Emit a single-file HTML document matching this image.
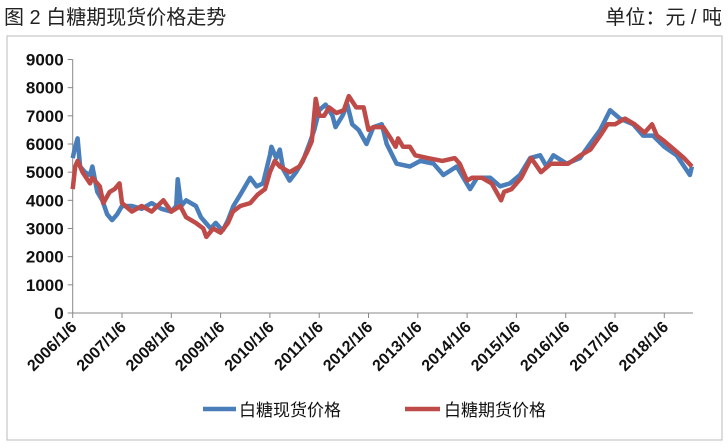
<!DOCTYPE html>
<html><head><meta charset="utf-8"><style>
body{margin:0;background:#fff;width:728px;height:442px;overflow:hidden;font-family:"Liberation Sans","Noto Sans CJK SC",sans-serif}
</style></head><body>
<svg width="728" height="442" xmlns="http://www.w3.org/2000/svg">
<text x="4" y="24" font-size="20" fill="#222" font-family="Liberation Sans, Noto Sans CJK SC, sans-serif">图 2 白糖期现货价格走势</text>
<text x="722" y="24" font-size="20" fill="#222" text-anchor="end" font-family="Liberation Sans, Noto Sans CJK SC, sans-serif">单位：元 / 吨</text>
<rect x="7" y="36" width="715" height="404" fill="none" stroke="#bbb"/>
<g id="axes"></g><g id="series"></g>
<g>
<line x1="203" y1="409" x2="236" y2="409" stroke="#4a7ebb" stroke-width="4.5"/>
<text x="239" y="416" font-size="17" fill="#111" font-family="Liberation Sans, Noto Sans CJK SC, sans-serif">白糖现货价格</text>
<line x1="405" y1="409" x2="440" y2="409" stroke="#be4b48" stroke-width="4.5"/>
<text x="444" y="416" font-size="17" fill="#111" font-family="Liberation Sans, Noto Sans CJK SC, sans-serif">白糖期货价格</text>
</g>
</svg>
<script>
const yTicks=[0,1000,2000,3000,4000,5000,6000,7000,8000,9000];
const xTickLabels=["2006/1/6","2007/1/6","2008/1/6","2009/1/6","2010/1/6","2011/1/6","2012/1/6","2013/1/6","2014/1/6","2015/1/6","2016/1/6","2017/1/6","2018/1/6"];
const xTickYears=[2006,2007,2008,2009,2010,2011,2012,2013,2014,2015,2016,2017,2018];
const spotTimes=[2006.0,2006.05,2006.1,2006.15,2006.25,2006.35,2006.4,2006.5,2006.6,2006.7,2006.8,2006.9,2007.0,2007.2,2007.4,2007.6,2007.8,2008.0,2008.1,2008.13,2008.2,2008.3,2008.5,2008.6,2008.7,2008.8,2008.9,2009.0,2009.05,2009.15,2009.26,2009.4,2009.6,2009.73,2009.86,2010.0,2010.03,2010.13,2010.2,2010.27,2010.4,2010.53,2010.67,2010.8,2010.9,2011.0,2011.13,2011.27,2011.33,2011.47,2011.57,2011.67,2011.8,2011.96,2012.1,2012.27,2012.37,2012.57,2012.84,2013.05,2013.32,2013.52,2013.79,2014.06,2014.2,2014.47,2014.67,2014.87,2015.07,2015.28,2015.48,2015.61,2015.75,2016.02,2016.29,2016.49,2016.7,2016.9,2017.1,2017.37,2017.57,2017.77,2018.0,2018.25,2018.52,2018.56];
const spotValues=[5500,5900,6200,5200,5000,4900,5200,4300,4000,3500,3300,3500,3800,3800,3700,3900,3700,3600,3800,4750,3800,4000,3800,3400,3200,3000,3200,3000,2950,3300,3800,4200,4800,4500,4600,5600,5900,5500,5800,5100,4700,5000,5400,6000,6500,7200,7400,7000,6600,7000,7400,6700,6500,6000,6600,6700,6000,5300,5200,5400,5300,4900,5200,4400,4800,4800,4500,4600,4900,5500,5600,5200,5600,5300,5500,6000,6500,7200,6900,6700,6300,6300,5900,5600,4900,5200];
const futTimes=[2006.0,2006.05,2006.1,2006.2,2006.35,2006.4,2006.55,2006.62,2006.75,2006.85,2006.95,2007.0,2007.2,2007.4,2007.6,2007.84,2008.0,2008.18,2008.3,2008.5,2008.65,2008.71,2008.85,2009.0,2009.15,2009.25,2009.4,2009.6,2009.75,2009.9,2010.0,2010.1,2010.2,2010.4,2010.6,2010.75,2010.85,2010.93,2011.0,2011.1,2011.2,2011.35,2011.5,2011.6,2011.75,2011.9,2012.0,2012.1,2012.3,2012.45,2012.55,2012.6,2012.7,2012.84,2012.95,2013.2,2013.5,2013.75,2013.85,2014.0,2014.1,2014.3,2014.5,2014.69,2014.75,2014.9,2015.1,2015.3,2015.5,2015.7,2015.9,2016.05,2016.3,2016.5,2016.7,2016.85,2017.0,2017.2,2017.4,2017.6,2017.75,2017.85,2018.0,2018.2,2018.4,2018.56];
const futValues=[4400,5200,5400,5000,4600,4800,4500,3900,4300,4400,4600,3900,3600,3800,3600,4000,3600,3800,3400,3200,3000,2700,3000,2850,3200,3600,3800,3900,4200,4400,5000,5400,5200,5000,5200,5700,6100,7600,7000,7000,7300,7100,7200,7700,7300,7300,6500,6600,6600,6200,5900,6200,5900,5900,5600,5500,5400,5500,5300,4700,4800,4800,4600,4000,4300,4400,4800,5500,5000,5300,5300,5300,5600,5800,6300,6700,6700,6900,6700,6400,6700,6300,6100,5800,5500,5200];
const X0=72.7,PX_PER_YEAR=49.3,Y0=313,Y9=59.5;
const xs=t=>X0+(t-2006)*PX_PER_YEAR;
const ys=v=>Y0-(v/9000)*(Y0-Y9);
const NS="http://www.w3.org/2000/svg";
const axes=document.getElementById('axes'),series=document.getElementById('series');
function mk(tag,attrs,parent){const e=document.createElementNS(NS,tag);for(const k in attrs)e.setAttribute(k,attrs[k]);parent.appendChild(e);return e;}
const yAxis=mk('line',{x1:X0,y1:Y9,x2:X0,y2:Y0,stroke:'#888'},axes);


const xAxis=mk('line',{x1:X0,y1:Y0,x2:693,y2:Y0,stroke:'#888'},axes);


yTicks.forEach(v=>{
  mk('line',{x1:X0-5,y1:ys(v),x2:X0,y2:ys(v),stroke:'#888'},axes);
  const t=mk('text',{x:X0-9,y:ys(v)+6,'font-size':17,'font-weight':'bold','text-anchor':'end',fill:'#111'},axes);
  t.textContent=v;
  
  
});
xTickYears.forEach((yr,i)=>{
  const x=xs(yr);
  mk('line',{x1:x,y1:Y0,x2:x,y2:Y0+5,stroke:'#888'},axes);
  const t=mk('text',{x:x+5,y:Y0+15,'font-size':16,'font-weight':'bold','text-anchor':'end',fill:'#111',transform:`rotate(-45 ${x+5} ${Y0+15})`},axes);
  t.textContent=xTickLabels[i];
  
  
});
function line(times,vals,color,name){
  const d=times.map((t,i)=>(i?'L':'M')+xs(t).toFixed(1)+','+ys(vals[i]).toFixed(1)).join('');
  const p=mk('path',{d:d,fill:'none',stroke:color,'stroke-width':4.5,'stroke-linejoin':'round'},series);
  
  
}
line(spotTimes,spotValues,'#4a7ebb','spot-price-line');
line(futTimes,futValues,'#be4b48','futures-price-line');
</script>
</body></html>
